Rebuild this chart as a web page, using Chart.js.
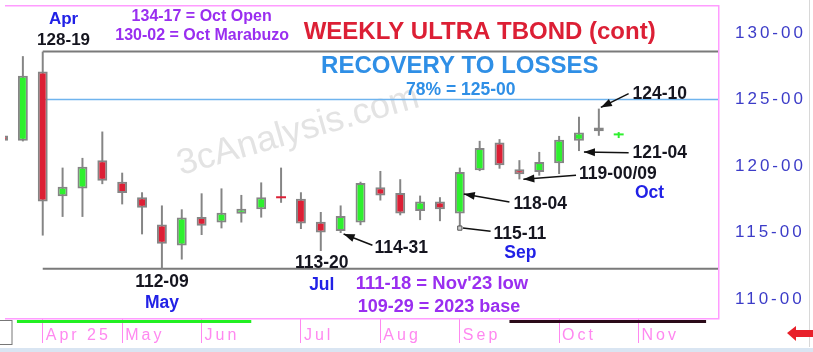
<!DOCTYPE html>
<html>
<head>
<meta charset="utf-8">
<script src="https://cdn.jsdelivr.net/npm/chart.js@4.4.1/dist/chart.umd.min.js"></script>
<style>
  html, body { margin: 0; padding: 0; background: #fff; }
  #wrap { width: 813px; height: 352px; position: relative; }
</style>
</head>
<body>
<div id="wrap"><canvas id="tbond"></canvas></div>
<script>
// weekly OHLC, prices in points (decimal, not 32nds)
const weeks  = [0,1,2,3,4,5,6,7,8,9,10,11,12,13,14,15,16,17,18,19,20,21,22,23,24,25,26,27,28,29,30,31];
const opens  = [122.3,121.9,127.1,117.73,118.32,120.44,118.82,117.66,115.61,114.04,116.18,115.76,116.42,116.75,117.64,117.54,115.81,115.12,115.76,118.4,117.98,116.62,117.34,116.43,119.68,121.77,119.75,119.56,120.2,121.9,122.62,122.3];
const highs  = [122.5,128.25,128.59,119.88,120.61,122.59,119.5,118.03,117.04,116.75,117.95,118.32,117.83,118.77,119.88,118.03,116.55,117.04,118.82,119.63,119.01,117.78,117.66,119.88,121.89,122.02,120.44,121.06,122.26,123.7,124.31,122.55];
const lows   = [121.7,121.85,114.78,116.18,116.18,118.64,117.12,114.87,112.28,112.98,114.82,115.32,115.76,116.13,117.24,115.27,113.62,114.97,115.56,117.41,116.3,115.94,115.86,115.34,119.62,119.8,119.0,119.28,119.4,121.125,122.27,122.1];
const closes = [121.9,126.77,117.34,118.45,119.95,118.89,117.98,116.87,114.16,116.13,115.51,116.5,116.79,117.66,117.58,115.69,115.0,116.25,118.72,117.78,116.43,117.34,116.75,119.56,121.35,120.05,119.38,120.3,121.97,122.52,122.9,122.3];

// month dividers on the time axis
const monthWeeks  = [2, 6, 10, 15, 19, 23, 28, 32];
const monthLabels = ['Apr 25', 'May', 'Jun', 'Jul', 'Aug', 'Sep', 'Oct', 'Nov'];

// price axis
const priceTicks = [110, 115, 120, 125, 130];

// horizontal levels: price, colour, width, first week
const levelPrices = [128.59, 125.0, 112.28];
const levelColors = ['#7a7a7a', '#6fb4ee', '#7a7a7a'];
const levelWidths = [2, 1.5, 2];
const levelStart  = 2;

// the 115-11 marked low
const markWeek = 23, markPrice = 115.34;

// text notes: text, week, price, colour, size, align
const BLUE = '#2121e6', PURP = '#9a2ef0', INK = '#15151f', RED = '#dc1f35', SKY = '#2f8fe6';
const notes = [
  ['Apr', 3.05, 130.98, BLUE, 17, 'center'],
  ['128-19', 3.05, 129.43, INK, 17, 'center'],
  ['134-17 = Oct Open', 10, 131.2, PURP, 16, 'center'],
  ['130-02 = Oct Marabuzo', 10.03, 129.8, PURP, 16, 'center'],
  ['WEEKLY ULTRA TBOND (cont)', 24.0, 130.02, RED, 24, 'center'],
  ['RECOVERY TO LOSSES', 23.0, 127.5, SKY, 24, 'center'],
  ['78% = 125-00', 23.05, 125.73, SKY, 17.5, 'center'],
  ['124-10', 31.7, 125.36, INK, 17.5, 'left'],
  ['121-04', 31.7, 120.93, INK, 17.5, 'left'],
  ['119-00/09', 29.0, 119.38, INK, 17.5, 'left'],
  ['Oct', 32.55, 117.98, BLUE, 17.5, 'center'],
  ['118-04', 25.7, 117.16, INK, 17.5, 'left'],
  ['115-11', 24.7, 114.87, INK, 17.5, 'left'],
  ['Sep', 26.05, 113.47, BLUE, 17.5, 'center'],
  ['114-31', 18.7, 113.84, INK, 17.5, 'left'],
  ['113-20', 14.7, 112.73, INK, 17.5, 'left'],
  ['Jul', 16.05, 111.03, BLUE, 17.5, 'center'],
  ["111-18 = Nov'23 low", 22.1, 111.18, PURP, 18.5, 'center'],
  ['109-29 = 2023 base', 21.95, 109.4, PURP, 18, 'center'],
  ['112-09', 8, 111.25, INK, 17.5, 'center'],
  ['May', 8, 109.7, BLUE, 17.5, 'center']
];

// arrows: from week, from price, to week, to price, arrow head?
const arrows = [
  [31.5, 125.44, 30.1, 124.4, true],
  [31.5, 121.0, 29.25, 121.05, true],
  [28.85, 119.3, 26.2, 119.0, true],
  [25.5, 117.3, 23.2, 117.9, true],
  [24.55, 115.1, 23.15, 115.34, false],
  [18.6, 114.05, 17.15, 114.9, true]
];

// strips under the chart: from week, to week, colour
const strips = [[0.7, 12.5, '#22f022'], [25.5, 35.4, '#2a0a18']];

const UP = '#2ef02e', DOWN = '#dc1f35', EDGE = '#858585', PINK = '#ff88f0';
const lastWeek = weeks.length - 1;
const isDoji = i => Math.abs(opens[i] - closes[i]) < 0.1;

const wickData = weeks.map((w, i) => ({ x: w, y: [lows[i], highs[i]] }));
const bodyData = weeks.map((w, i) => ({ x: w, y: [Math.min(opens[i], closes[i]), Math.max(opens[i], closes[i])] }));
const bodyColors = weeks.map((w, i) => (i === lastWeek || closes[i] >= opens[i]) ? UP : DOWN);

const levelSets = levelPrices.map((p, k) => ({
  type: 'line',
  data: [{ x: levelStart, y: p }, { x: 36, y: p }],
  borderColor: levelColors[k],
  borderWidth: levelWidths[k],
  pointRadius: 0,
  order: 5
}));

const extras = {
  id: 'extras',
  beforeDraw(chart) {
    chart.ctx.letterSpacing = '3px';
  },
  beforeDatasetsDraw(chart) {
    const { ctx, scales: { x, y } } = chart;
    ctx.save();
    ctx.letterSpacing = '0px';
    ctx.translate(x.getPixelForValue(8.95), y.getPixelForValue(119.3));
    ctx.rotate(-16 * Math.PI / 180);
    ctx.font = '36px "Liberation Sans", Arial, sans-serif';
    ctx.fillStyle = '#e3e3e3';
    ctx.textBaseline = 'alphabetic';
    ctx.fillText('3cAnalysis.com', 0, 0);
    ctx.restore();
  },
  afterDatasetsDraw(chart) {
    const { ctx, scales: { x, y } } = chart;
    ctx.save();
    ctx.letterSpacing = '0px';
    // arrows
    ctx.strokeStyle = '#111';
    ctx.fillStyle = '#111';
    ctx.lineWidth = 1.5;
    arrows.forEach(a => {
      const x1 = x.getPixelForValue(a[0]), y1 = y.getPixelForValue(a[1]);
      const x2 = x.getPixelForValue(a[2]), y2 = y.getPixelForValue(a[3]);
      ctx.beginPath();
      ctx.moveTo(x1, y1);
      ctx.lineTo(x2, y2);
      ctx.stroke();
      if (a[4]) {
        const ang = Math.atan2(y2 - y1, x2 - x1);
        ctx.beginPath();
        ctx.moveTo(x2, y2);
        ctx.lineTo(x2 - 11 * Math.cos(ang) + 4 * Math.sin(ang), y2 - 11 * Math.sin(ang) - 4 * Math.cos(ang));
        ctx.lineTo(x2 - 11 * Math.cos(ang) - 4 * Math.sin(ang), y2 - 11 * Math.sin(ang) + 4 * Math.cos(ang));
        ctx.closePath();
        ctx.fill();
      }
    });
    // notes
    ctx.textBaseline = 'middle';
    notes.forEach(n => {
      ctx.font = 'bold ' + n[4] + 'px "Liberation Sans", Arial, sans-serif';
      ctx.fillStyle = n[3];
      ctx.textAlign = n[5];
      ctx.fillText(n[0], x.getPixelForValue(n[1]), y.getPixelForValue(n[2]));
    });
    ctx.restore();
  },
  afterDraw(chart) {
    const { ctx, chartArea: a, scales: { x }, width, height } = chart;
    ctx.save();
    // plot frame
    ctx.strokeStyle = '#ff9cff';
    ctx.lineWidth = 1.5;
    ctx.beginPath();
    ctx.moveTo(a.left, a.top + 0.75);
    ctx.lineTo(a.right + 0.75, a.top + 0.75);
    ctx.lineTo(a.right + 0.75, a.bottom + 0.75);
    ctx.lineTo(a.left, a.bottom + 0.75);
    ctx.stroke();
    // strips
    strips.forEach(s => {
      ctx.fillStyle = s[2];
      const x1 = Math.max(x.getPixelForValue(s[0]), a.left);
      ctx.fillRect(x1, a.bottom + 2, x.getPixelForValue(s[1]) - x1, 3);
    });
    // little box at the left of the time axis
    ctx.strokeStyle = '#777';
    ctx.lineWidth = 1;
    ctx.strokeRect(-0.5, a.bottom + 2.5, 12.5, 24);
    // price panel edge
    ctx.strokeStyle = '#d8d8d8';
    ctx.beginPath();
    ctx.moveTo(809.5, 0);
    ctx.lineTo(809.5, 347);
    ctx.stroke();
    // scroll arrow
    ctx.fillStyle = '#e8202a';
    ctx.beginPath();
    ctx.moveTo(787, 333);
    ctx.lineTo(796, 326);
    ctx.lineTo(796, 330);
    ctx.lineTo(813, 330);
    ctx.lineTo(813, 337);
    ctx.lineTo(796, 337);
    ctx.lineTo(796, 341);
    ctx.closePath();
    ctx.fill();
    // bottom band
    ctx.fillStyle = '#d9e5f2';
    ctx.fillRect(0, 348, width, height - 348);
    ctx.restore();
  }
};

new Chart(document.getElementById('tbond'), {
  type: 'bar',
  data: {
    datasets: [
      {
        label: 'body',
        data: bodyData,
        grouped: false,
        categoryPercentage: 1,
        barPercentage: 0.5,
        minBarLength: 2,
        backgroundColor: bodyColors,
        borderColor: EDGE,
        borderWidth: ctx => isDoji(ctx.dataIndex) ? 0 : 2,
        borderSkipped: false,
        order: 1
      },
      {
        label: 'wick',
        data: wickData,
        grouped: false,
        categoryPercentage: 1,
        barPercentage: 0.1,
        backgroundColor: weeks.map((w, i) => i === lastWeek ? UP : EDGE),
        borderWidth: 0,
        order: 2
      },
      {
        type: 'scatter',
        data: [{ x: markWeek, y: markPrice }],
        pointStyle: 'rect',
        pointRadius: 3,
        backgroundColor: '#cfcfcf',
        borderColor: '#555',
        borderWidth: 1,
        order: 0
      },
      ...levelSets
    ]
  },
  options: {
    responsive: true,
    maintainAspectRatio: false,
    animation: false,
    layout: { padding: 0 },
    plugins: { legend: { display: false }, tooltip: { enabled: false } },
    scales: {
      x: {
        type: 'linear',
        min: 0.1,
        max: 36,
        offset: false,
        grid: { offset: false, drawOnChartArea: false, drawTicks: true, tickLength: 25, color: PINK, lineWidth: 1 },
        border: { display: false },
        ticks: {
          align: 'start',
          labelOffset: 3,
          padding: -17,
          maxRotation: 0,
          autoSkip: false,
          color: PINK,
          font: { family: '"Liberation Sans", Arial, sans-serif', size: 16 },
          callback: v => monthLabels[monthWeeks.indexOf(v)]
        },
        afterBuildTicks: s => { s.ticks = monthWeeks.map(v => ({ value: v })); },
        afterFit: s => { s.height = 34; s.paddingLeft = 0; s.paddingRight = 0; }
      },
      y: {
        position: 'right',
        min: 108.59,
        max: 132.09,
        stacked: false,
        grid: { display: false, drawTicks: false },
        border: { display: false },
        ticks: {
          padding: 17,
          color: '#3c3cc8',
          font: { family: '"Liberation Sans", Arial, sans-serif', size: 17 },
          callback: v => v + '-00'
        },
        afterBuildTicks: s => { s.ticks = priceTicks.map(v => ({ value: v })); },
        afterFit: s => { s.width = 95; s.paddingTop = 0; s.paddingBottom = 0; }
      }
    }
  },
  plugins: [extras]
});
</script>
</body>
</html>
